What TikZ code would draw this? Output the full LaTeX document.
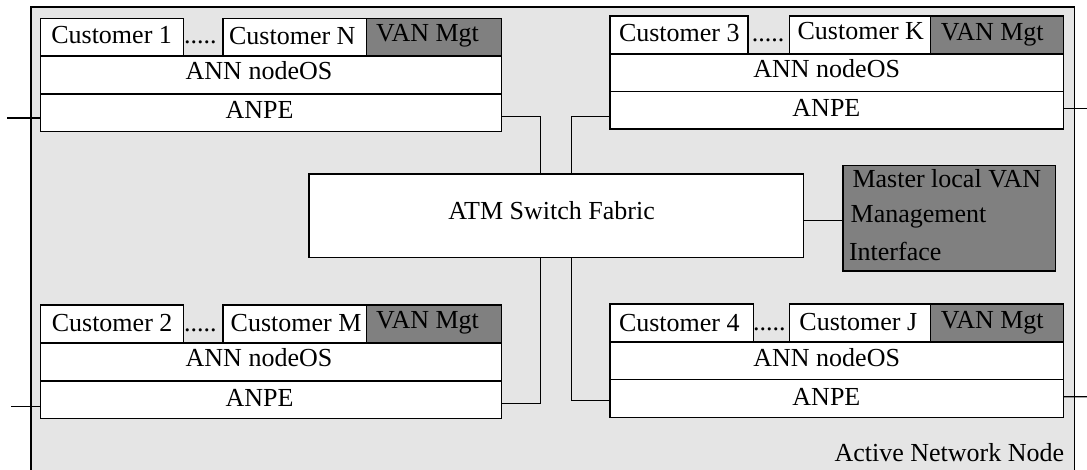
\documentclass[tikz,border=0pt]{standalone}
\usepackage{fontspec}
\setmainfont{Liberation Serif}
\newcommand{\bx}[6]{% style, name, x0, y0, x1, y1
  \pgfmathsetmacro{\bxw}{(#5-#3)*0.5}
  \pgfmathsetmacro{\bxh}{(#6-#4)*0.5}
  \pgfmathsetmacro{\bxcx}{(#3+#5)/2}
  \pgfmathsetmacro{\bxcy}{(#4+#6)/2}
  \node[#1,minimum width=\bxw pt,minimum height=\bxh pt] (#2) at (\bxcx,\bxcy) {};
}
\newcommand{\tx}[4]{\node[lbl] (#1) at (#2,#3) {#4};}
\newcommand{\stack}[9]{% prefix, y0, y1, y2, y3, x0, x1, custAright, custBleft
  \bx{custbox}{#1a}{#6}{#2}{#8}{#3}
  \bx{custbox}{#1b}{#9}{#2}{\midx}{#3}
  \bx{vanbox}{#1v}{\midx}{#2}{#7}{#3}
  \bx{custbox}{#1o}{#6}{#3}{#7}{#4}
  \bx{custbox}{#1p}{#6}{#4}{#7}{#5}
}
\tikzset{
  x=0.5pt,y=-0.5pt,
  every node/.style={font=\fontsize{13}{15}\selectfont,text=black},
  edge/.style={draw=black,line width=0.65pt},
  custbox/.style={draw=black,line width=0.65pt,fill=white,inner sep=0pt,outer sep=0pt},
  vanbox/.style={draw=black,line width=0.65pt,fill=vangray,inner sep=0pt,outer sep=0pt},
  lbl/.style={anchor=base,inner sep=0pt,outer sep=0pt},
  lblleft/.style={anchor=base west,inner sep=0pt,outer sep=0pt},
}
\definecolor{platefill}{HTML}{E5E5E5}
\definecolor{vangray}{HTML}{808080}
\begin{document}
\begin{tikzpicture}
\useasboundingbox (0,0) rectangle (1087,470);
% active network node plate, open at the bottom
\fill[platefill] (30.9,7) rectangle (1074.3,470);
\draw[edge] (30.9,470) -- (30.9,7) -- (1074.3,7) -- (1074.3,470);
\tx{plate}{949.4}{461}{Active Network Node}

% free ends
\coordinate (in1) at (7,118);
\coordinate (in2) at (11.1,406.7);
\coordinate (out3) at (1087,108.5);
\coordinate (out4) at (1087,396.7);

% centre
\bx{custbox}{sw}{309}{174}{803.6}{257.7}
\tx{swt}{551.6}{219.3}{ATM Switch Fabric}
\bx{vanbox}{mst}{843}{165.7}{1055.7}{271}
\node[lblleft] (mst1) at (852.5,187.5) {Master local VAN};
\node[lblleft] (mst2) at (850.7,222.7) {Management};
\node[lblleft] (mst3) at (849,260.7) {Interface};

% stack 1
\def\midx{366.4}
\stack{s1}{18.5}{56}{94}{131.5}{40.7}{501.2}{183.2}{223.1}
\tx{s1at}{111.6}{44}{Customer 1}
\tx{s1d}{200.4}{44}{.....}
\tx{s1bt}{292.3}{44.3}{Customer N}
\tx{s1vt}{427.5}{41.7}{VAN Mgt}
\tx{s1ot}{259}{80}{ANN nodeOS}
\tx{s1pt}{259.6}{119}{ANPE}

% stack 2
\stack{s2}{305}{343}{381}{418.7}{40.7}{501.2}{183.2}{223.1}
\tx{s2at}{112.1}{331}{Customer 2}
\tx{s2d}{200.4}{331}{.....}
\tx{s2bt}{296.1}{331}{Customer M}
\tx{s2vt}{427.5}{328.3}{VAN Mgt}
\tx{s2ot}{259}{366.7}{ANN nodeOS}
\tx{s2pt}{259.6}{406}{ANPE}

% stack 3
\def\midx{930.8}
\stack{s3}{16}{54}{91.5}{129}{610}{1063.8}{747.9}{789.7}
\tx{s3at}{679.3}{41.7}{Customer 3}
\tx{s3d}{768}{41.7}{.....}
\tx{s3bt}{860.8}{39.3}{Customer K}
\tx{s3vt}{992.3}{40.7}{VAN Mgt}
\tx{s3ot}{826.7}{77.7}{ANN nodeOS}
\tx{s3pt}{826.4}{116.7}{ANPE}

% stack 4
\stack{s4}{304}{342}{379.7}{417.3}{610}{1063.8}{753.4}{789.7}
\tx{s4at}{679.3}{331.7}{Customer 4}
\tx{s4d}{769.3}{330}{.....}
\tx{s4bt}{858.3}{330}{Customer J}
\tx{s4vt}{992.3}{328.3}{VAN Mgt}
\tx{s4ot}{826.7}{366}{ANN nodeOS}
\tx{s4pt}{826.4}{405}{ANPE}

% connectors
\draw[edge] (in1) -- ([shift={(0,5.25)}]s1p.west);
\draw[edge] (in2) -- ([shift={(0,6.85)}]s2p.west);
\draw[edge] ([shift={(0,-1.75)}]s3p.east) -- (out3);
\draw[edge] ([shift={(0,-1.8)}]s4p.east) -- (out4);
\draw[edge] ([shift={(0,3.75)}]s1p.east) -| ([shift={(-15.8,0)}]sw.north);
\draw[edge] ([shift={(0,3.45)}]s2p.east) -| ([shift={(-15.8,0)}]sw.south);
\draw[edge] ([shift={(0,6.25)}]s3p.west) -| ([shift={(15.3,0)}]sw.north);
\draw[edge] ([shift={(0,2.2)}]s4p.west) -| ([shift={(15.3,0)}]sw.south);
\draw[edge] ([shift={(0,4.85)}]sw.east) -- ([shift={(0,2.35)}]mst.west);
\end{tikzpicture}
\end{document}
